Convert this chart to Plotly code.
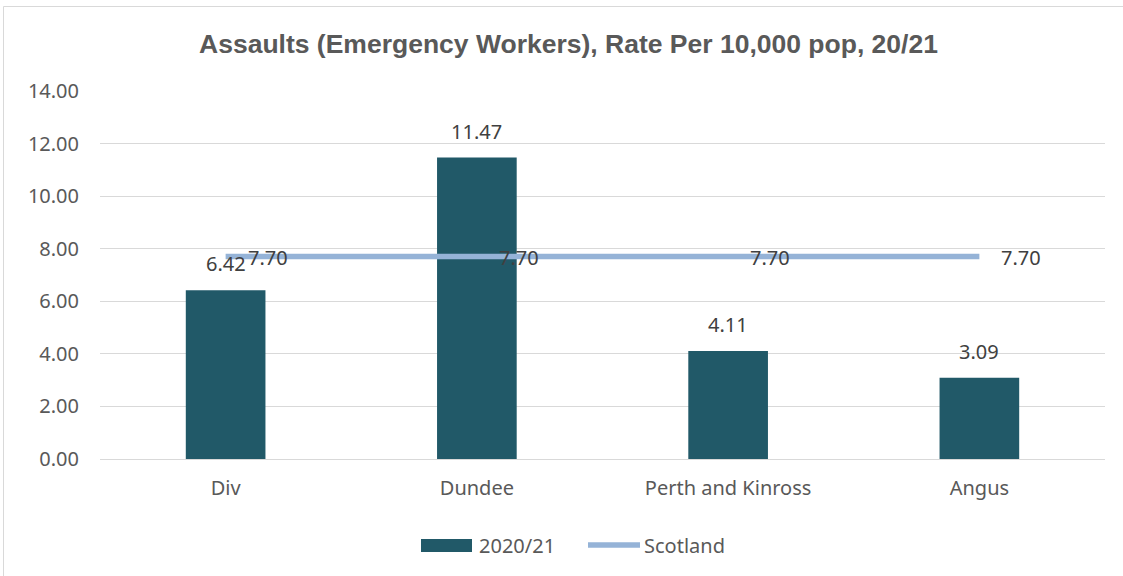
import plotly.graph_objects as go

categories = ["Div", "Dundee", "Perth and Kinross", "Angus"]
rate_2020_21 = [6.42, 11.47, 4.11, 3.09]
scotland = [7.70, 7.70, 7.70, 7.70]
y_ticks = [0, 2, 4, 6, 8, 10, 12, 14]
series_names = ["2020/21", "Scotland"]

W, H = 1123, 576
ml, mr, mt, mb = 100, 18, 91, 117
pw = W - ml - mr
ph = H - mt - mb

BAR_COLOR = "#215968"
LINE_COLOR = "#95B3D7"
FONT = "Noto Sans"


def px_x(p):
    return (p - ml) / pw


def px_y(p):
    return (H - mb - p) / ph


fig = go.Figure()
fig.add_trace(go.Bar(
    x=categories, y=rate_2020_21, name=series_names[0],
    marker=dict(color=BAR_COLOR, line=dict(width=0)),
    width=0.317, showlegend=False,
))
fig.add_trace(go.Scatter(
    x=categories, y=scotland, name=series_names[1], mode="lines",
    line=dict(color=LINE_COLOR, width=5.5), showlegend=False,
))

annotations = []
for c, v in zip(categories, rate_2020_21):
    annotations.append(dict(x=c, y=v, xref="x", yref="y", text=f"{v:.2f}",
                            showarrow=False, xanchor="center", yanchor="bottom",
                            yshift=11, font=dict(family=FONT, size=20, color="#404040")))
for c, v in zip(categories, scotland):
    annotations.append(dict(x=c, y=v, xref="x", yref="y", text=f"{v:.2f}",
                            showarrow=False, xanchor="left", yanchor="middle",
                            xshift=20, yshift=-1, font=dict(family=FONT, size=20, color="#404040")))

# legend (drawn to match the reference's wide swatches)
ly = px_y(545)
annotations.append(dict(x=px_x(477), y=ly, xref="paper", yref="paper", text=series_names[0],
                        showarrow=False, xanchor="left", yanchor="middle",
                        font=dict(family=FONT, size=20, color="#595959")))
annotations.append(dict(x=px_x(642), y=ly, xref="paper", yref="paper", text=series_names[1],
                        showarrow=False, xanchor="left", yanchor="middle",
                        font=dict(family=FONT, size=20, color="#595959")))

shapes = [
    dict(type="rect", xref="paper", yref="paper",
         x0=px_x(3.5), x1=px_x(W + 5), y0=px_y(H + 5), y1=px_y(6.5),
         line=dict(color="#D9D9D9", width=1), layer="below"),
    dict(type="rect", xref="paper", yref="paper",
         x0=px_x(421), x1=px_x(472), y0=px_y(552), y1=px_y(539),
         fillcolor=BAR_COLOR, line=dict(width=0)),
    dict(type="line", xref="paper", yref="paper",
         x0=px_x(588), x1=px_x(640), y0=ly, y1=ly,
         line=dict(color=LINE_COLOR, width=5.5)),
]

fig.update_layout(
    width=W, height=H,
    margin=dict(l=ml, r=mr, t=mt, b=mb, autoexpand=False),
    paper_bgcolor="white", plot_bgcolor="white",
    title=dict(text="<b>Assaults (Emergency Workers), Rate Per 10,000 pop, 20/21</b>",
               x=(W / 2 + 7) / W, xanchor="center", y=1 - 44 / H, yanchor="middle",
               font=dict(family="Liberation Sans, Arial", size=26.5, color="#595959")),
    font=dict(family=FONT, size=20, color="#595959"),
    showlegend=False,
    annotations=annotations,
    shapes=shapes,
    xaxis=dict(showgrid=False, showline=False, ticks="", ticklabelstandoff=15,
               tickfont=dict(family=FONT, size=20, color="#595959")),
    yaxis=dict(range=[0, 14], tickvals=y_ticks, tickformat=".2f",
               showgrid=True, gridcolor="#D9D9D9", gridwidth=1,
               zeroline=True, zerolinecolor="#D9D9D9", zerolinewidth=1, showline=False,
               ticks="", ticklen=0, ticklabelstandoff=20,
               tickfont=dict(family=FONT, size=20, color="#595959")),
)

fig.write_html("out.html", config={"displayModeBar": False},
               post_script="document.body.style.margin='0';")
